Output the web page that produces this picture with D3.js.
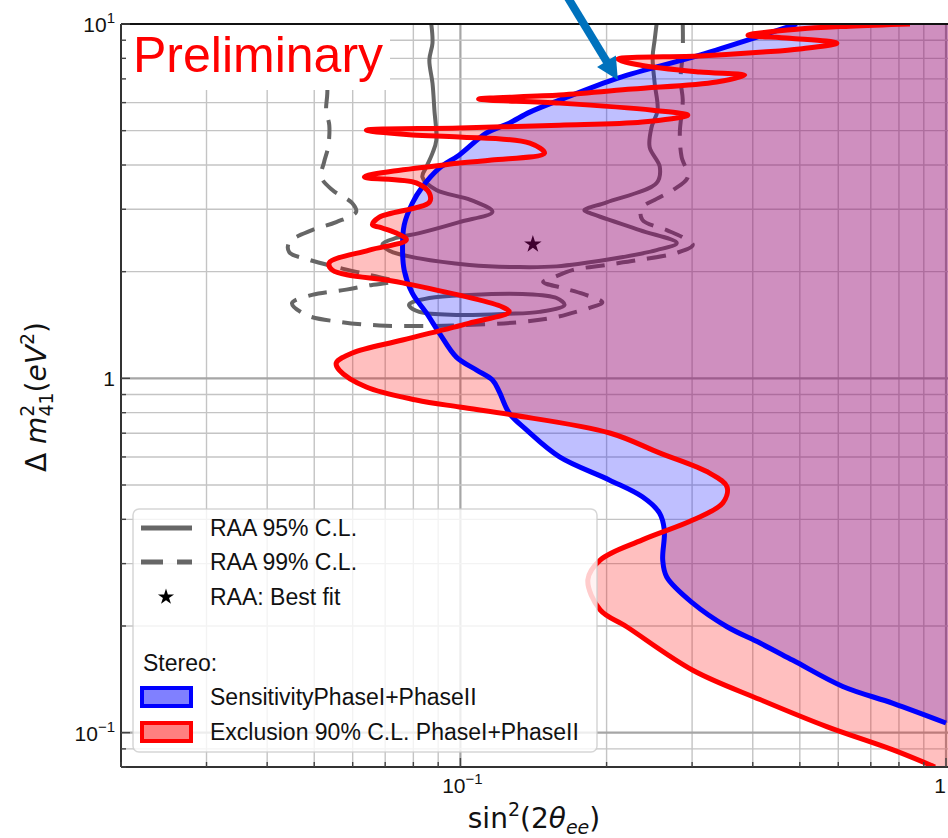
<!DOCTYPE html>
<html>
<head>
<meta charset="utf-8">
<script src="https://cdn.jsdelivr.net/npm/d3@7"></script>
<style>
  html, body { margin: 0; padding: 0; background: #fff; }
  svg { display: block; font-family: "Liberation Sans", Arial, sans-serif; }
</style>
</head>
<body>
<div id="chart"></div>
<script>
// Stereo sensitivity contour (sin^2 2theta, dm^2)
const sensitivity = [
  [0.493, 10], [0.408, 9.18], [0.311, 8.17], [0.211, 7.04], [0.160, 6.10], [0.139, 5.64],
  [0.126, 5.25], [0.113, 4.92], [0.0995, 4.27], [0.0905, 3.92], [0.0835, 3.47], [0.0796, 3.12],
  [0.0766, 2.71], [0.0760, 2.35], [0.0766, 2.02], [0.0796, 1.74], [0.0851, 1.53], [0.0905, 1.342],
  [0.0981, 1.148], [0.108, 1.055], [0.1164, 0.989], [0.1203, 0.915], [0.126, 0.798], [0.1368, 0.715],
  [0.160, 0.600], [0.203, 0.516], [0.237, 0.463], [0.257, 0.417], [0.263, 0.373], [0.261, 0.307],
  [0.266, 0.275], [0.301, 0.232], [0.354, 0.199], [0.414, 0.179], [0.484, 0.160], [0.613, 0.135],
  [0.778, 0.121], [1.0, 0.1065]
];

// Stereo 90% C.L. exclusion contour
const exclusion = [
  [0.843, 10], [0.634, 9.86], [0.493, 9.67], [0.391, 9.30], [0.477, 9.12], [0.596, 8.83],
  [0.500, 8.50], [0.420, 8.33], [0.311, 8.12], [0.211, 7.96], [0.234, 7.66], [0.311, 7.32],
  [0.385, 7.17], [0.337, 6.86], [0.226, 6.55], [0.160, 6.30], [0.109, 6.14], [0.160, 5.98],
  [0.249, 5.71], [0.294, 5.53], [0.237, 5.29], [0.160, 5.18], [0.0995, 5.09], [0.0640, 5.02],
  [0.0796, 4.86], [0.0995, 4.80], [0.139, 4.61], [0.149, 4.32], [0.116, 4.13], [0.0995, 4.05],
  [0.0634, 3.70], [0.0811, 3.56], [0.0863, 3.33], [0.0863, 3.14], [0.0681, 2.85], [0.0659, 2.71],
  [0.0681, 2.67], [0.0738, 2.57], [0.0774, 2.46], [0.0649, 2.30], [0.0537, 2.12], [0.0545, 2.02],
  [0.0760, 1.86], [0.122, 1.59], [0.126, 1.54], [0.104, 1.43], [0.0760, 1.283], [0.0599, 1.179],
  [0.0555, 1.105], [0.0563, 1.055], [0.0640, 0.945], [0.0811, 0.869], [0.0995, 0.830], [0.128, 0.788],
  [0.203, 0.701], [0.257, 0.616], [0.326, 0.540], [0.354, 0.494], [0.347, 0.445], [0.301, 0.398],
  [0.237, 0.350], [0.194, 0.307], [0.183, 0.270], [0.194, 0.222], [0.220, 0.199], [0.301, 0.150],
  [0.414, 0.124], [0.568, 0.104], [0.778, 0.0894], [0.949, 0.080]
];

// RAA 95% C.L. contour (open, main region) and its island
const raa95 = [
  [0.0871, 10], [0.0876, 8.83], [0.0863, 7.91], [0.0876, 6.81], [0.0884, 5.71], [0.0892, 4.70],
  [0.0876, 4.32], [0.0851, 3.95], [0.0835, 3.70], [0.0892, 3.40], [0.1049, 3.19], [0.1164, 2.95],
  [0.0995, 2.76], [0.0823, 2.57], [0.0738, 2.49], [0.0691, 2.39], [0.0714, 2.29], [0.0823, 2.18],
  [0.1044, 2.09], [0.1323, 2.06], [0.1578, 2.07], [0.200, 2.16], [0.2535, 2.30], [0.279, 2.41],
  [0.234, 2.62], [0.1845, 2.93], [0.180, 2.98], [0.200, 3.14], [0.2535, 3.56], [0.2574, 3.95],
  [0.2453, 4.49], [0.2476, 5.12], [0.2547, 5.71], [0.2512, 6.81], [0.2488, 8.07], [0.2512, 9.01],
  [0.2535, 10]
];
const raa95island = [
  [0.0785, 1.62], [0.0863, 1.685], [0.1044, 1.72], [0.1342, 1.73], [0.1578, 1.685], [0.1638, 1.61],
  [0.1455, 1.54], [0.1244, 1.52], [0.0981, 1.51], [0.0823, 1.54], [0.0785, 1.60]
];

// RAA 99% C.L. contour
const raa99 = [
  [0.287, 10], [0.287, 8.28], [0.284, 6.95], [0.287, 6.10], [0.283, 4.92], [0.2855, 4.21],
  [0.294, 3.70], [0.274, 3.40], [0.2535, 3.21], [0.236, 3.02], [0.237, 2.80], [0.266, 2.62],
  [0.287, 2.50], [0.301, 2.38], [0.279, 2.26], [0.234, 2.16], [0.200, 2.09], [0.170, 2.02],
  [0.156, 1.93], [0.148, 1.87], [0.162, 1.80], [0.179, 1.73], [0.196, 1.64], [0.1845, 1.58],
  [0.170, 1.53], [0.158, 1.49], [0.132, 1.44], [0.0963, 1.41], [0.0823, 1.405], [0.0681, 1.41],
  [0.0571, 1.44], [0.0481, 1.51], [0.0450, 1.63], [0.0495, 1.72], [0.0582, 1.78], [0.0649, 1.83],
  [0.0731, 1.88], [0.0681, 1.93], [0.0628, 1.98], [0.0555, 2.06], [0.0488, 2.16], [0.0444, 2.27],
  [0.0444, 2.42], [0.0495, 2.62], [0.0555, 2.76], [0.0610, 2.95], [0.0599, 3.12], [0.0545, 3.40],
  [0.0517, 3.70], [0.0524, 4.08], [0.0534, 4.49], [0.0537, 5.18], [0.0529, 5.71], [0.0532, 6.38],
  [0.0532, 10]
];

const bestFit = [0.141, 2.39];

// annotation arrow (from above the frame down to the sensitivity curve)
const arrowFrom = [0.165, 12.1];
const arrowTo = [0.211, 6.95];

// tick labels: [value, base, exponent]
const xTickLabels = [[0.1, "10", "\u22121"], [1, "1", ""]];
const yTickLabels = [[0.1, "10", "\u22121"], [1, "1", ""], [10, "10", "1"]];

const legendRAA = ["RAA 95% C.L.", "RAA 99% C.L.", "RAA: Best fit"];
const legendStereo = ["SensitivityPhaseI+PhaseII", "Exclusion 90% C.L. PhaseI+PhaseII"];

const W = 948, H = 838;
const plot = {left: 121, right: 946, top: 24, bottom: 767};

const svg = d3.select("#chart").append("svg")
    .attr("width", W)
    .attr("height", H);

svg.append("rect").attr("width", W).attr("height", H).attr("fill", "#fff");

const x = d3.scaleLog().domain([0.02, 1]).range([plot.left, plot.right]);
const y = d3.scaleLog().domain([0.08, 10]).range([plot.bottom, plot.top]);

const isMajor = v => Math.abs(Math.log10(v) - Math.round(Math.log10(v))) < 1e-6;

svg.append("defs").append("clipPath").attr("id", "clip")
  .append("rect")
    .attr("x", plot.left).attr("y", plot.top)
    .attr("width", W - plot.left).attr("height", plot.bottom - plot.top);

// grid
const grid = svg.append("g");
grid.selectAll(".gx").data(x.ticks()).enter().append("line")
    .attr("x1", d => x(d)).attr("x2", d => x(d))
    .attr("y1", plot.top).attr("y2", plot.bottom)
    .attr("stroke", d => isMajor(d) ? "#a6a6a6" : "#c4c4c4")
    .attr("stroke-width", d => isMajor(d) ? 2.2 : 1.4);
grid.selectAll(".gy").data(y.ticks()).enter().append("line")
    .attr("y1", d => y(d)).attr("y2", d => y(d))
    .attr("x1", plot.left).attr("x2", W)
    .attr("stroke", d => isMajor(d) ? "#a6a6a6" : "#c4c4c4")
    .attr("stroke-width", d => isMajor(d) ? 2.2 : 1.4);

const plotArea = svg.append("g").attr("clip-path", "url(#clip)");

const curve = d3.curveCatmullRom.alpha(0.5);
const line = d3.line().x(d => x(d[0])).y(d => y(d[1])).curve(curve);

// RAA contours (under the fills)
plotArea.append("path").attr("d", line(raa99))
    .attr("fill", "none").attr("stroke", "#666").attr("stroke-width", 4)
    .attr("stroke-dasharray", "19,12");
plotArea.append("path").attr("d", line(raa95))
    .attr("fill", "none").attr("stroke", "#666").attr("stroke-width", 4);
plotArea.append("path")
    .attr("d", d3.line().x(d => x(d[0])).y(d => y(d[1])).curve(d3.curveCatmullRomClosed.alpha(0.5))(raa95island))
    .attr("fill", "none").attr("stroke", "#666").attr("stroke-width", 4);

plotArea.append("path")
    .attr("d", d3.symbol().type(d3.symbolStar).size(95)())
    .attr("transform", `translate(${x(bestFit[0])},${y(bestFit[1])})`)
    .attr("fill", "#000");

// filled regions
const xHi = x.domain()[1] * 1.3, yHi = y.domain()[1] * 1.3, yLo = y.domain()[0] * 0.8;
function region(pts, closing) {
  return line(pts) + closing.map(p => `L${x(p[0])},${y(p[1])}`).join("") + "Z";
}
const sFirst = sensitivity[0], sLast = sensitivity[sensitivity.length - 1];
const eFirst = exclusion[0], eLast = exclusion[exclusion.length - 1];

plotArea.append("path")
    .attr("d", region(sensitivity, [[xHi, sLast[1]], [xHi, yHi], [sFirst[0], yHi]]))
    .attr("fill", "rgba(0,0,255,0.25)");
plotArea.append("path")
    .attr("d", region(exclusion, [[eLast[0], yLo], [xHi, yLo], [xHi, yHi], [eFirst[0], yHi]]))
    .attr("fill", "rgba(255,0,0,0.25)");

plotArea.append("path").attr("d", line(sensitivity))
    .attr("fill", "none").attr("stroke", "#0000ff").attr("stroke-width", 5)
    .attr("stroke-linejoin", "round");
plotArea.append("path").attr("d", line(exclusion))
    .attr("fill", "none").attr("stroke", "#ff0000").attr("stroke-width", 5)
    .attr("stroke-linejoin", "round");

// "Preliminary" stamp with white box
svg.append("rect")
    .attr("x", plot.left + 1).attr("y", plot.top + 1)
    .attr("width", 268).attr("height", 65)
    .attr("fill", "#fff");
svg.append("text")
    .attr("x", 133).attr("y", 72)
    .style("font-size", "50px")
    .attr("fill", "#ff0000")
    .text("Preliminary");

// spines and inward ticks
svg.append("line").attr("x1", plot.left).attr("x2", W).attr("y1", plot.top).attr("y2", plot.top)
    .attr("stroke", "#111").attr("stroke-width", 1.8);
svg.append("line").attr("x1", plot.left).attr("x2", plot.left).attr("y1", plot.top).attr("y2", plot.bottom)
    .attr("stroke", "#333").attr("stroke-width", 2);
svg.append("line").attr("x1", plot.left).attr("x2", W).attr("y1", plot.bottom).attr("y2", plot.bottom)
    .attr("stroke", "#333").attr("stroke-width", 2);

svg.selectAll(".tx").data(x.ticks()).enter().append("line")
    .attr("x1", d => x(d)).attr("x2", d => x(d))
    .attr("y1", plot.bottom).attr("y2", d => plot.bottom - (isMajor(d) ? 9 : 5))
    .attr("stroke", "#444").attr("stroke-width", 1.4);
svg.selectAll(".ty").data(y.ticks()).enter().append("line")
    .attr("y1", d => y(d)).attr("y2", d => y(d))
    .attr("x1", plot.left).attr("x2", d => plot.left + (isMajor(d) ? 9 : 5))
    .attr("stroke", "#444").attr("stroke-width", 1.4);

function tickText(sel, base, exp) {
  sel.append("tspan").text(base);
  if (exp) sel.append("tspan").attr("dy", -9).style("font-size", "15px").text(exp);
}
xTickLabels.forEach(([v, b, e]) => {
  const t = svg.append("text")
      .attr("x", Math.min(x(v) + 2, W - 8)).attr("y", 793)
      .attr("text-anchor", "middle")
      .style("font-size", "21px").attr("fill", "#111");
  tickText(t, b, e);
});
yTickLabels.forEach(([v, b, e]) => {
  const t = svg.append("text")
      .attr("x", 115).attr("y", y(v) + 8)
      .attr("text-anchor", "end")
      .style("font-size", "21px").attr("fill", "#111");
  tickText(t, b, e);
});

// legend
const lg = svg.append("g");
lg.append("rect")
    .attr("x", 133).attr("y", 509).attr("width", 464).attr("height", 243)
    .attr("rx", 6)
    .attr("fill", "rgba(255,255,255,0.8)")
    .attr("stroke", "rgba(204,204,204,0.8)").attr("stroke-width", 1.5);

const rowY = [528, 562, 597];
lg.append("line").attr("x1", 141).attr("x2", 192).attr("y1", rowY[0]).attr("y2", rowY[0])
    .attr("stroke", "#666").attr("stroke-width", 5);
lg.append("line").attr("x1", 141).attr("x2", 192).attr("y1", rowY[1]).attr("y2", rowY[1])
    .attr("stroke", "#666").attr("stroke-width", 5).attr("stroke-dasharray", "22,14");
lg.append("path")
    .attr("d", d3.symbol().type(d3.symbolStar).size(80)())
    .attr("transform", `translate(166,${rowY[2]})`)
    .attr("fill", "#000");
legendRAA.forEach((s, i) => {
  lg.append("text").attr("x", 210).attr("y", rowY[i] + 8)
      .style("font-size", "23px").attr("fill", "#111").text(s);
});
lg.append("text").attr("x", 143).attr("y", 671)
    .style("font-size", "23px").attr("fill", "#111").text("Stereo:");

const patchY = [697, 732];
const patchStyle = [["#8080ff", "#0000ff"], ["#ff8080", "#ff0000"]];
legendStereo.forEach((s, i) => {
  lg.append("rect")
      .attr("x", 142).attr("y", patchY[i] - 9).attr("width", 49).attr("height", 18)
      .attr("fill", patchStyle[i][0]).attr("stroke", patchStyle[i][1]).attr("stroke-width", 4);
  lg.append("text").attr("x", 210).attr("y", patchY[i] + 8)
      .style("font-size", "23px").attr("fill", "#111").text(s);
});

// arrow
const p0 = [x(arrowFrom[0]), y(arrowFrom[1])], p1 = [x(arrowTo[0]), y(arrowTo[1])];
const len = Math.hypot(p1[0] - p0[0], p1[1] - p0[1]);
const u = [(p1[0] - p0[0]) / len, (p1[1] - p0[1]) / len], n = [-u[1], u[0]];
const headL = 22, headW = 11;
const base = [p1[0] - u[0] * headL, p1[1] - u[1] * headL];
svg.append("line")
    .attr("x1", p0[0]).attr("y1", p0[1]).attr("x2", base[0] + u[0] * 2).attr("y2", base[1] + u[1] * 2)
    .attr("stroke", "#0072bd").attr("stroke-width", 8);
svg.append("path")
    .attr("d", `M${p1[0]},${p1[1]}L${base[0] + n[0] * headW},${base[1] + n[1] * headW}L${base[0] - n[0] * headW},${base[1] - n[1] * headW}Z`)
    .attr("fill", "#0072bd");

// axis labels
const xl = svg.append("text")
    .attr("x", 534).attr("y", 828)
    .attr("text-anchor", "middle")
    .style("font-family", "'DejaVu Sans', sans-serif")
    .style("font-size", "28px").attr("fill", "#111");
xl.append("tspan").text("sin");
xl.append("tspan").attr("dy", -12).style("font-size", "19px").text("2");
xl.append("tspan").attr("dy", 12).text("(2");
xl.append("tspan").style("font-style", "italic").text("\u03b8");
xl.append("tspan").attr("dy", 6).style("font-size", "19px").style("font-style", "italic").text("ee");
xl.append("tspan").attr("dy", -6).text(")");

const yl = svg.append("text")
    .attr("transform", "translate(46,397) rotate(-90)")
    .attr("text-anchor", "middle")
    .style("font-family", "'DejaVu Sans', sans-serif")
    .style("font-size", "28px").attr("fill", "#111");
yl.append("tspan").text("\u0394 ");
yl.append("tspan").style("font-style", "italic").text("m");
yl.append("tspan").attr("dy", -12).style("font-size", "19px").text("2");
yl.append("tspan").attr("dx", -12).attr("dy", 19).style("font-size", "19px").text("41");
yl.append("tspan").attr("dy", -7).text("(");
yl.append("tspan").style("font-style", "italic").text("eV");
yl.append("tspan").attr("dy", -12).style("font-size", "19px").text("2");
yl.append("tspan").attr("dy", 12).text(")");
</script>
</body>
</html>
